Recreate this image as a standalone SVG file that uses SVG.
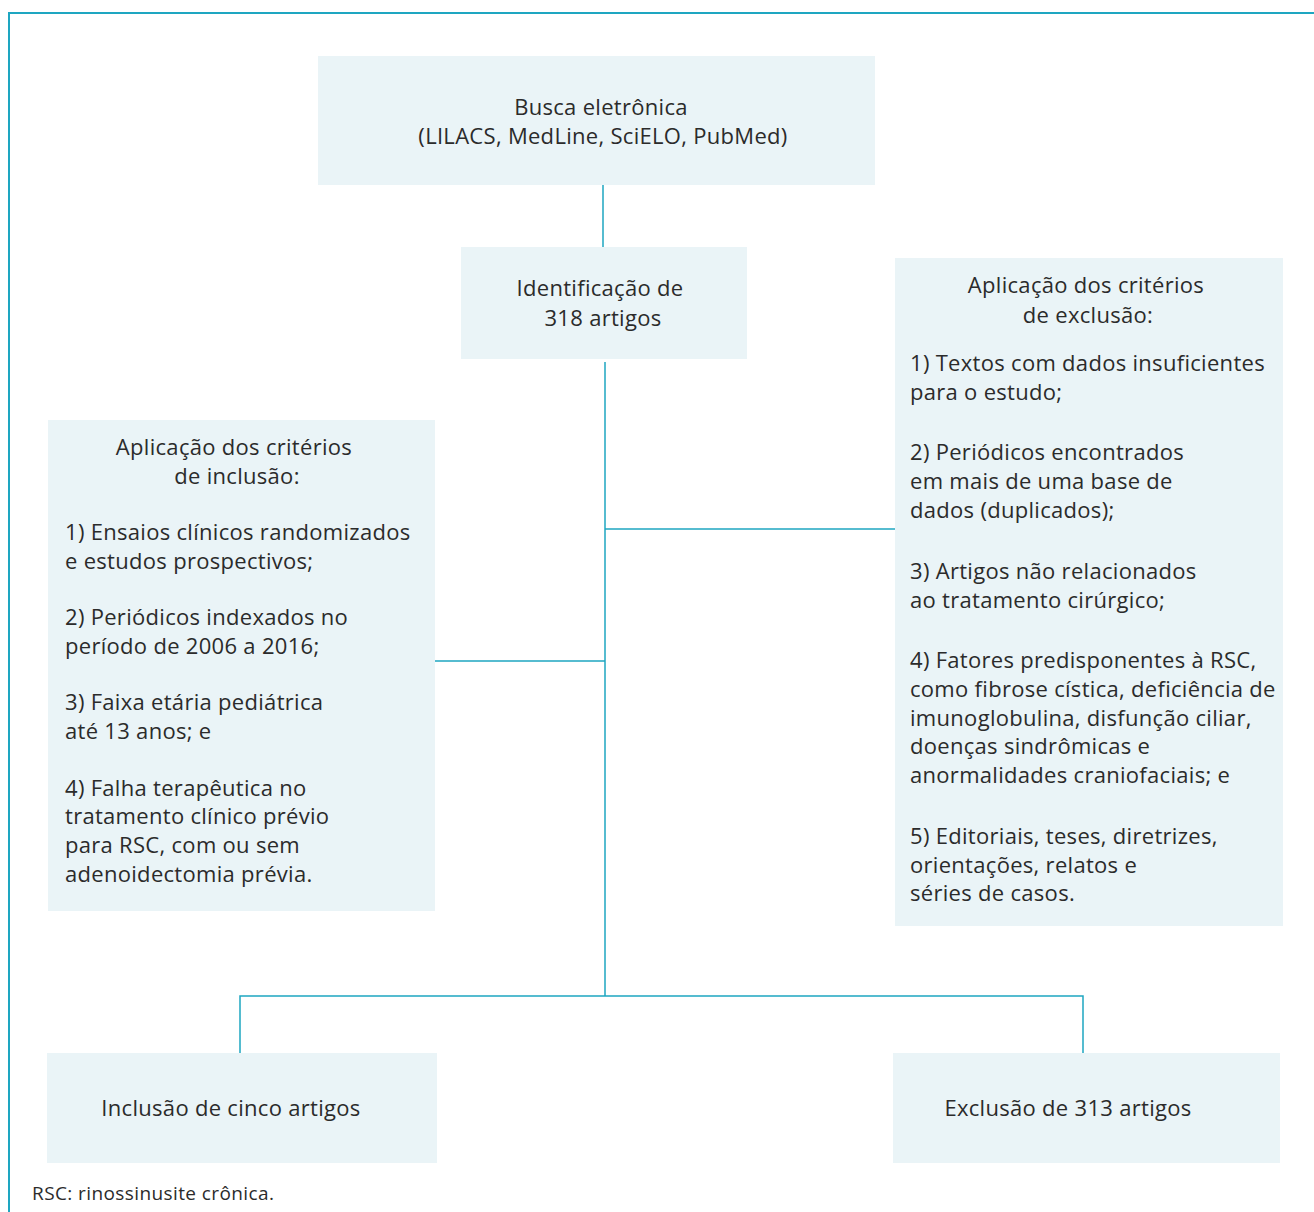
<svg xmlns="http://www.w3.org/2000/svg" width="1314" height="1212" viewBox="0 0 1314 1212">
<style>
.box{fill:#eaf4f7}
.ln{stroke:#1ea6c1;stroke-width:1.5;fill:none}
.fr{stroke:#1ea6c1;stroke-width:2;fill:none}
text{font-family:"Open Sans","Noto Sans","Liberation Sans",sans-serif;font-size:22px;letter-spacing:0.3px;fill:#2b2b2b}
.c{text-anchor:middle}
.ft{font-size:19px;letter-spacing:0.4px}
</style>
<rect width="1314" height="1212" fill="#ffffff"/>
<path class="fr" d="M9,1212 V13 H1314"/>
<g id="connectors">
<path class="ln" d="M603,185 V247"/>
<path class="ln" d="M605,362 V996"/>
<path class="ln" d="M605,529 H895"/>
<path class="ln" d="M435,661 H605"/>
<path class="ln" d="M240,1053 V996 H1083 V1053"/>
</g>
<g id="n1">
<rect class="box" x="318" y="56" width="557" height="129"/>
<text class="c" x="601" y="115">Busca eletrônica</text>
<text class="c" x="603" y="144">(LILACS, MedLine, SciELO, PubMed)</text>
</g>
<g id="n2">
<rect class="box" x="461" y="247" width="286" height="112"/>
<text class="c" x="600" y="296">Identificação de</text>
<text class="c" x="603" y="326">318 artigos</text>
</g>
<g id="n3">
<rect class="box" x="895" y="258" width="388" height="668"/>
<text class="c" x="1086" y="293">Aplicação dos critérios</text>
<text class="c" x="1088" y="323">de exclusão:</text>
<text x="910" y="371">1) Textos com dados insuficientes</text>
<text x="910" y="400">para o estudo;</text>
<text x="910" y="460">2) Periódicos encontrados</text>
<text x="910" y="489">em mais de uma base de</text>
<text x="910" y="518">dados (duplicados);</text>
<text x="910" y="579">3) Artigos não relacionados</text>
<text x="910" y="608">ao tratamento cirúrgico;</text>
<text x="910" y="668">4) Fatores predisponentes à RSC,</text>
<text x="910" y="697">como fibrose cística, deficiência de</text>
<text x="910" y="726">imunoglobulina, disfunção ciliar,</text>
<text x="910" y="754">doenças sindrômicas e</text>
<text x="910" y="783">anormalidades craniofaciais; e</text>
<text x="910" y="844">5) Editoriais, teses, diretrizes,</text>
<text x="910" y="873">orientações, relatos e</text>
<text x="910" y="901">séries de casos.</text>
</g>
<g id="n4">
<rect class="box" x="48" y="420" width="387" height="491"/>
<text class="c" x="234" y="455">Aplicação dos critérios</text>
<text class="c" x="237" y="484">de inclusão:</text>
<text x="65" y="540">1) Ensaios clínicos randomizados</text>
<text x="65" y="569">e estudos prospectivos;</text>
<text x="65" y="625">2) Periódicos indexados no</text>
<text x="65" y="654">período de 2006 a 2016;</text>
<text x="65" y="710">3) Faixa etária pediátrica</text>
<text x="65" y="739">até 13 anos; e</text>
<text x="65" y="796">4) Falha terapêutica no</text>
<text x="65" y="824">tratamento clínico prévio</text>
<text x="65" y="853">para RSC, com ou sem</text>
<text x="65" y="882">adenoidectomia prévia.</text>
</g>
<g id="n5">
<rect class="box" x="47" y="1053" width="390" height="110"/>
<text class="c" x="231" y="1116">Inclusão de cinco artigos</text>
</g>
<g id="n6">
<rect class="box" x="893" y="1053" width="387" height="110"/>
<text class="c" x="1068" y="1116">Exclusão de 313 artigos</text>
</g>
<text class="ft" x="32" y="1200">RSC: rinossinusite crônica.</text>
</svg>
